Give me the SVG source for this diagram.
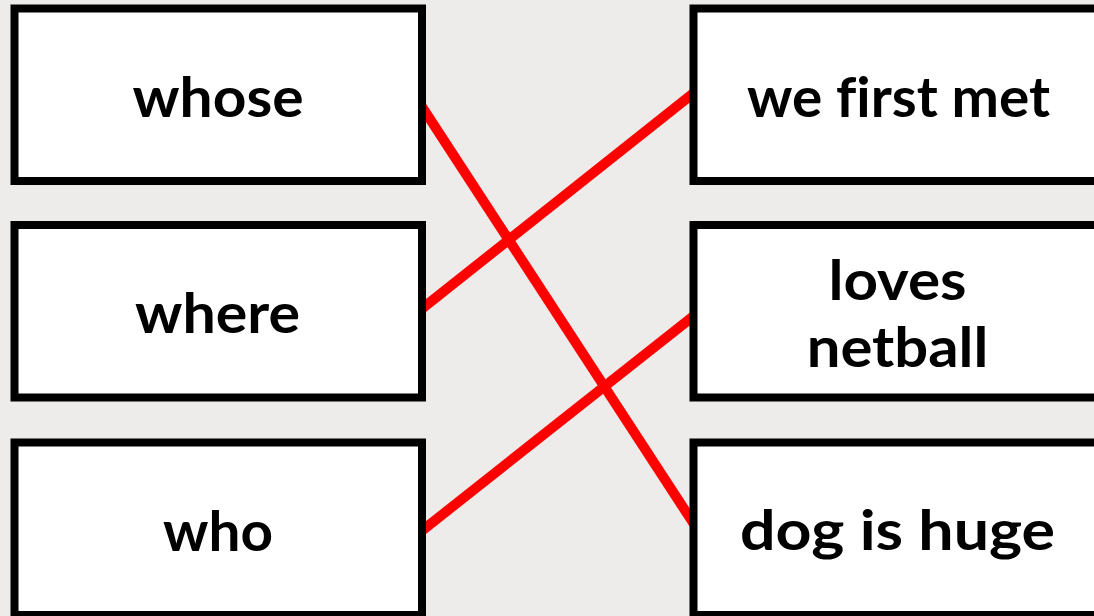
<svg xmlns="http://www.w3.org/2000/svg" width="1094" height="616" viewBox="0 0 1094 616">
<style>
.box{fill:#ffffff;stroke:#000000;stroke-width:8}
.lbl{font-family:"Lato","Liberation Sans",sans-serif;font-weight:700;font-size:56px;fill:#000000;text-anchor:middle;font-variant-ligatures:none;font-feature-settings:"liga" 0}
.link{stroke:#ff0000;stroke-width:10;fill:none;stroke-linecap:butt}
</style>
<rect width="1094" height="616" fill="#edeceb"/>
<g id="connectors">
<line class="link" x1="414" y1="94.5" x2="700" y2="533.3"/>
<line class="link" x1="414" y1="315" x2="700" y2="88"/>
<line class="link" x1="414" y1="537" x2="700" y2="311"/>
</g>
<g id="node-whose">
<rect class="box" x="14.5" y="8.5" width="407.5" height="172.5"/>
<text class="lbl" x="218" y="117" textLength="171" lengthAdjust="spacingAndGlyphs">whose</text>
</g>
<g id="node-where">
<rect class="box" x="14.5" y="225" width="407.5" height="172.5"/>
<text class="lbl" x="217.5" y="333" textLength="165" lengthAdjust="spacingAndGlyphs">where</text>
</g>
<g id="node-who">
<rect class="box" x="14.5" y="442.5" width="407.5" height="172.5"/>
<text class="lbl" x="218" y="550.5" textLength="110" lengthAdjust="spacingAndGlyphs">who</text>
</g>
<g id="node-we-first-met">
<rect class="box" x="693.5" y="8.5" width="410" height="172.5"/>
<text class="lbl" x="898.5" y="116.7" textLength="303" lengthAdjust="spacingAndGlyphs">we first met</text>
</g>
<g id="node-loves-netball">
<rect class="box" x="693.5" y="225" width="410" height="172.5"/>
<text class="lbl" x="897.5" y="300" textLength="138" lengthAdjust="spacingAndGlyphs">loves</text>
<text class="lbl" x="897.5" y="366.7" textLength="181.5" lengthAdjust="spacingAndGlyphs">netball</text>
</g>
<g id="node-dog-is-huge">
<rect class="box" x="693.5" y="442.5" width="410" height="172.5"/>
<text class="lbl" x="897.5" y="550" textLength="315" lengthAdjust="spacingAndGlyphs">dog is huge</text>
</g>
</svg>
